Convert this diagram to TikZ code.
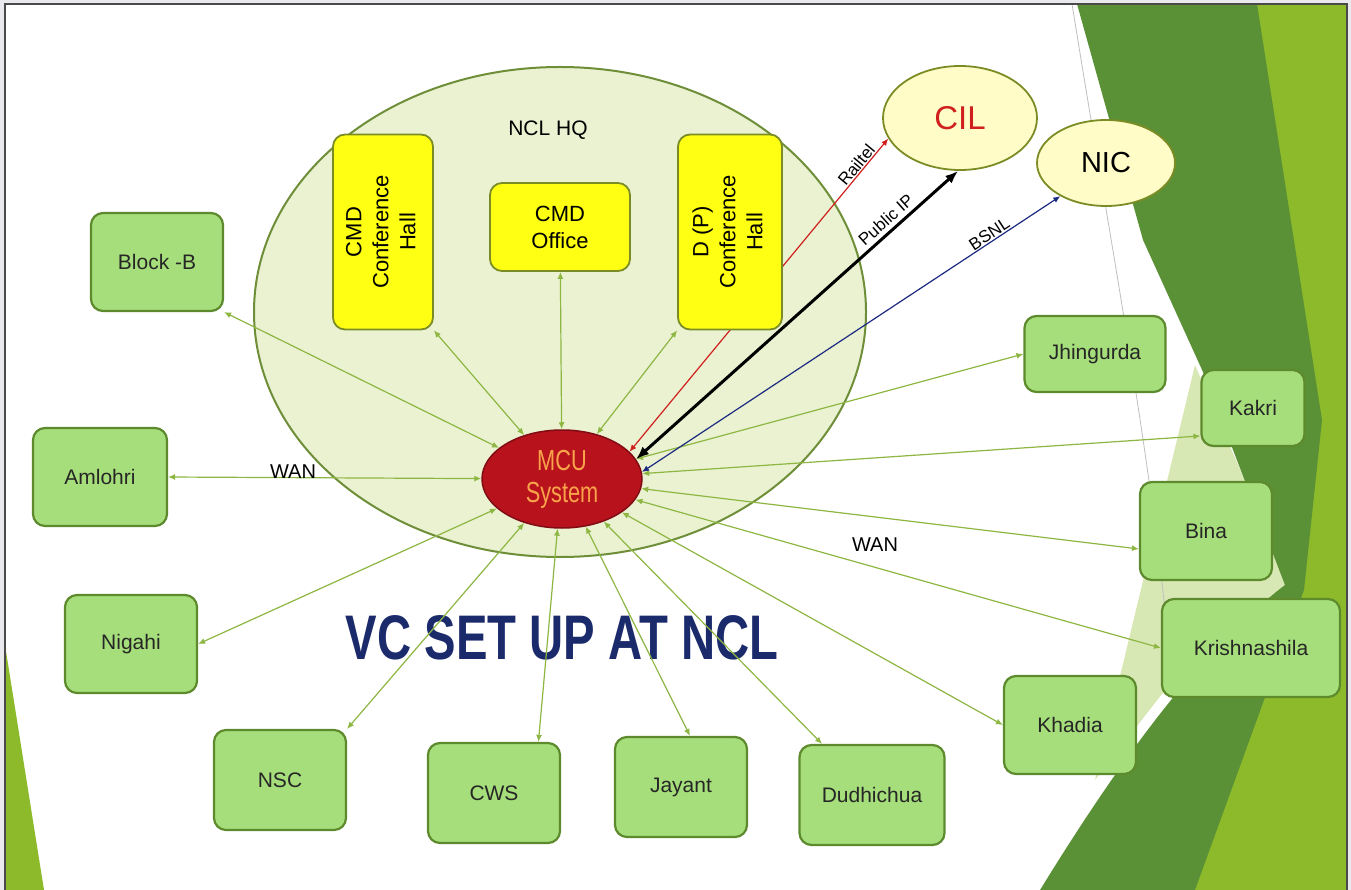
\documentclass[tikz,border=0pt]{standalone}
\usepackage{fontspec}
\setmainfont{Liberation Sans}
\newfontfamily\narrowsans{Liberation Sans}[FakeStretch=0.75]
\usetikzlibrary{positioning, shapes.geometric, arrows.meta}

\definecolor{pagegray}{HTML}{E9E9EE}
\definecolor{framegray}{HTML}{4A4A4A}
\definecolor{limegreen}{HTML}{8CBA2A}
\definecolor{bandgreen}{HTML}{5B9136}
\definecolor{palegreen}{HTML}{D8E8B4}
\definecolor{hqfill}{HTML}{EAF2D2}
\definecolor{hqline}{HTML}{6E8E38}
\definecolor{sitefill}{HTML}{A5DE7A}
\definecolor{siteline}{HTML}{5C8A2C}
\definecolor{hallfill}{HTML}{FFFF14}
\definecolor{hallline}{HTML}{7B8C24}
\definecolor{extfill}{HTML}{FFFCC8}
\definecolor{mcufill}{HTML}{B8121C}
\definecolor{mcutext}{HTML}{F9A34A}
\definecolor{linkgreen}{HTML}{8EB642}
\definecolor{titleblue}{HTML}{1B2A6B}
\definecolor{cilred}{HTML}{D0201E}
\definecolor{bsnlblue}{HTML}{1C2A80}

\pgfdeclarelayer{back}
\pgfdeclarelayer{wires}
\pgfsetlayers{back,wires,main}

\begin{document}
\begin{tikzpicture}[x=1pt,y=-1pt,>={Latex[length=7pt,width=6pt]},
    site/.style={draw=siteline, fill=sitefill, line width=2.2pt, rounded corners=12pt,
      minimum width=132pt, minimum height=98pt, inner sep=0pt,
      font=\fontsize{21}{25}\selectfont, text=black!85},
    hall/.style={draw=hallline, fill=hallfill, line width=1.8pt, rounded corners=12pt,
      inner sep=0pt, font=\fontsize{22}{27}\selectfont},
    ext/.style={ellipse, draw=hallline, fill=extfill, line width=1.8pt, inner sep=0pt},
    link/.style={<->, draw=linkgreen, line width=1.2pt},
    tag/.style={font=\fontsize{17}{20}\selectfont, inner sep=1pt}]
  \useasboundingbox (0,0) rectangle (1351,890);

  % slide background
  \begin{pgfonlayer}{back}
    \fill[pagegray] (0,0) rectangle (1351,890);
    \fill[white] (5,4) rectangle (1347,890);
    \fill[limegreen] (1240,4) -- (1347,4) -- (1347,890) -- (1150,890) -- (1300,560) -- cycle;
    \fill[palegreen] (1195,365) -- (1292,590) -- (1165,690) -- (1095,780) -- cycle;
    \fill[bandgreen] (1077,4) -- (1257,4) -- (1322,420) -- (1304,590) -- (1195,890) -- (1040,890)
      .. controls (1120,760) and (1200,650) .. (1285,585) -- (1203,372) -- (1143,240) -- cycle;
    \fill[limegreen] (5,645) -- (5,890) -- (44,890) -- cycle;
    \draw[black!25, line width=0.8pt] (1072,4) .. controls (1110,240) and (1150,450) .. (1168,640);
    \draw[framegray, line width=2pt] (5,890) -- (5,4) -- (1347,4) -- (1347,890);

    % head quarters
    \node[ellipse, draw=hqline, fill=hqfill, line width=2pt,
      minimum width=612pt, minimum height=490pt] (hq) at (560,312) {};
    \node[font=\fontsize{21}{24}\selectfont] (hqlabel) at (548,130) {NCL HQ};

    % title
    \node[font=\narrowsans\bfseries\fontsize{63}{70}\selectfont, text=titleblue] (title) at (562,638) {VC SET UP AT NCL};
  \end{pgfonlayer}

  % rooms at HQ
  \node[hall, minimum width=100pt, minimum height=195pt] (cmdhall) at (383,232)
    {\rotatebox{90}{\begin{tabular}{@{}c@{}}CMD\\Conference\\Hall\end{tabular}}};
  \node[hall, minimum width=140pt, minimum height=88pt, align=center] (cmdoffice) at (560,227) {CMD\\Office};
  \node[hall, minimum width=104pt, minimum height=195pt] (dphall) at (730,232)
    {\rotatebox{90}{\begin{tabular}{@{}c@{}}D (P)\\Conference\\Hall\end{tabular}}};

  \node[ellipse, draw=mcufill!70!black, fill=mcufill, line width=1.5pt, minimum width=160pt,
    minimum height=98pt, inner sep=0pt, align=center, text=mcutext,
    font=\narrowsans\fontsize{29}{32}\selectfont] (mcu) at (562,479) {MCU\\System};

  \node[ext, minimum width=154pt, minimum height=104pt, text=cilred, font=\fontsize{33}{36}\selectfont] (cil) at (960,118) {CIL};
  \node[ext, minimum width=138pt, minimum height=86pt, font=\fontsize{29}{32}\selectfont] (nic) at (1106,163) {NIC};

  % areas
  \node[site] (blockb) at (157,262) {Block -B};
  \node[site, minimum width=134pt] (amlohri) at (100,477) {Amlohri};
  \node[site] (nigahi) at (131,644) {Nigahi};
  \node[site, minimum height=100pt] (nsc) at (280,780) {NSC};
  \node[site, minimum height=100pt] (cws) at (494,793) {CWS};
  \node[site, minimum height=100pt] (jayant) at (681,787) {Jayant};
  \node[site, minimum width=145pt, minimum height=100pt] (dudhichua) at (872,795) {Dudhichua};
  \node[site] (khadia) at (1070,725) {Khadia};
  \node[site, minimum width=178pt] (krishnashila) at (1251,648) {Krishnashila};
  \node[site] (bina) at (1206,531) {Bina};
  \node[site, minimum width=103pt, minimum height=76pt] (kakri) at (1253,408) {Kakri};
  \node[site, minimum width=141pt, minimum height=76pt] (jhingurda) at (1095,354) {Jhingurda};

  % links to the MCU
  \begin{pgfonlayer}{wires}
    \draw[link] (blockb.south east) -- (mcu);
    \draw[link] (cmdhall.south east) -- (mcu);
    \draw[link] (cmdoffice) -- (mcu);
    \draw[link] (dphall.south west) -- (mcu);
    \draw[link] (amlohri.east) -- (mcu);
    \draw[link] (nigahi.east) -- (mcu);
    \draw[link] (nsc.north east) -- (mcu);
    \draw[link] (cws.49) -- (mcu);
    \draw[link] (jayant.80) -- (mcu);
    \draw[link] (dudhichua) -- (mcu);
    \draw[link] (khadia.west) -- (mcu);
    \draw[link] (krishnashila.west) -- (mcu);
    \draw[link] (bina.195) -- (mcu);
    \draw[link] (kakri.208) -- (mcu);
    \draw[link] (jhingurda.west) -- (mcu);

    \draw[<->, draw=cilred, line width=1.2pt] (mcu.22) -- node[tag, sloped, above, pos=0.9] (railtel) {Railtel} (cil.196);
    \draw[<->, >={Latex[length=13pt,width=10pt]}, line width=3pt] (mcu.15) -- node[tag, sloped, above=3pt, pos=0.8] (publicip) {Public IP} (cil.268);
    \draw[<->, draw=bsnlblue, line width=1.2pt] (mcu.5) -- node[tag, sloped, above, pos=0.84] (bsnl) {BSNL} (nic.216);

    \node[font=\fontsize{20}{22}\selectfont] (wanwest) at (293,472) {WAN};
    \node[font=\fontsize{20}{22}\selectfont] (waneast) at (875,545) {WAN};
  \end{pgfonlayer}
\end{tikzpicture}
\end{document}
